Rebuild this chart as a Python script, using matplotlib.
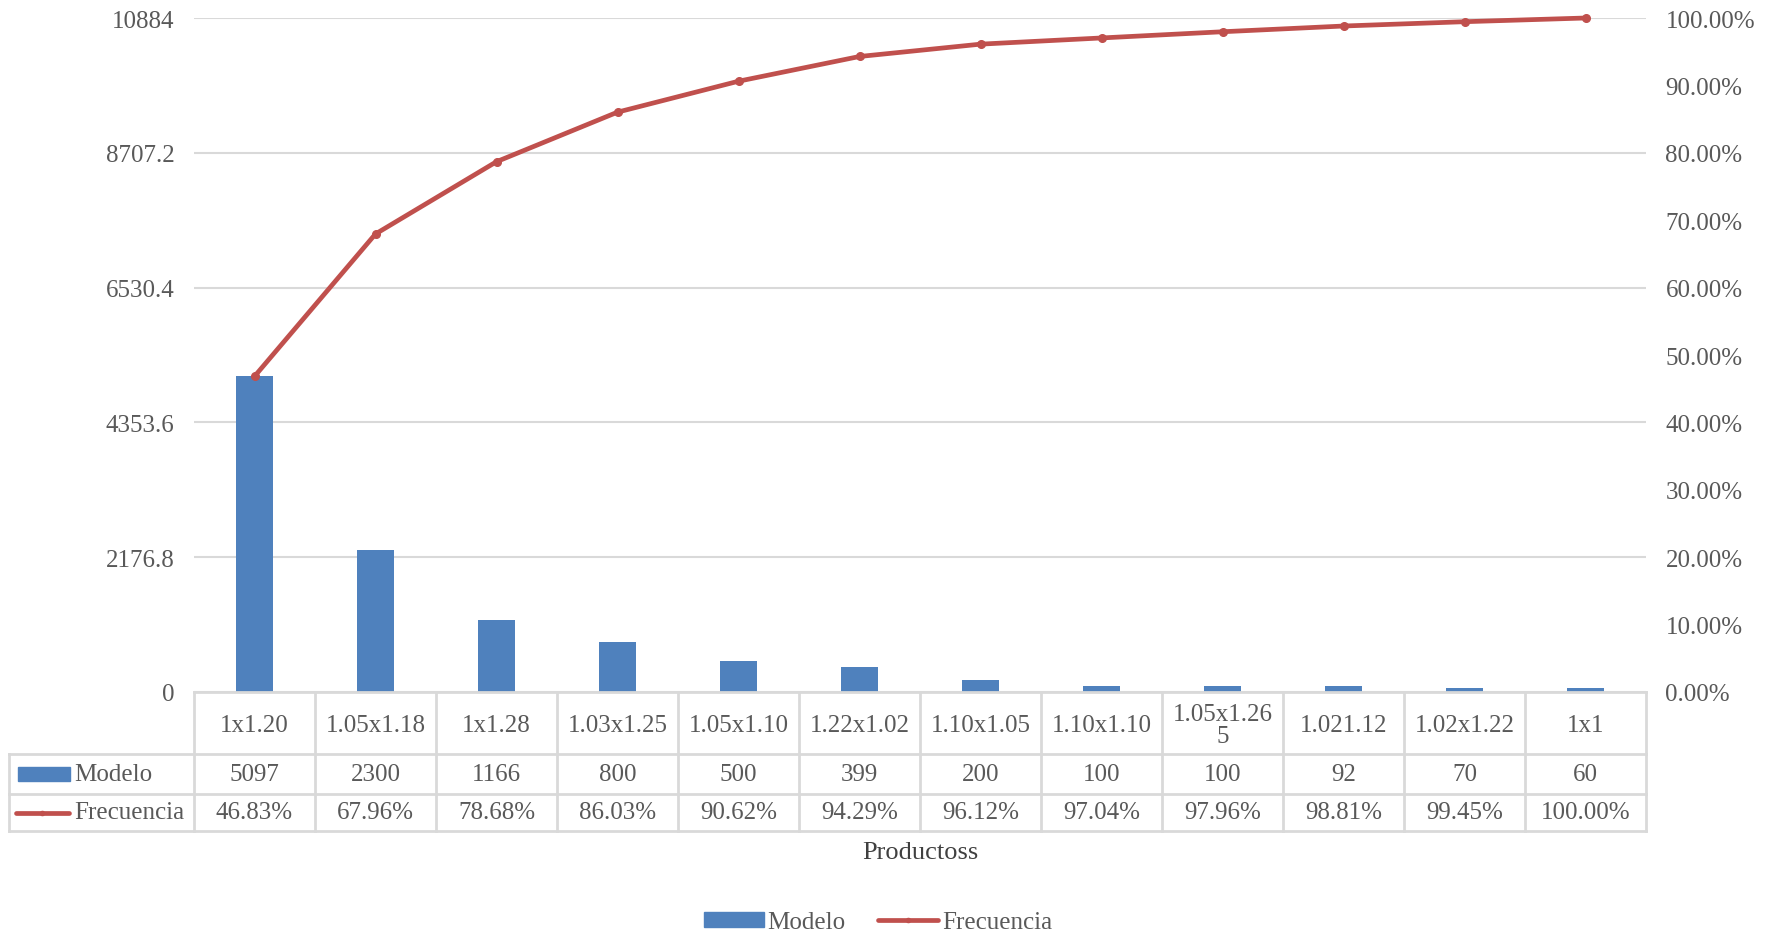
import matplotlib.pyplot as plt
from matplotlib.lines import Line2D
from matplotlib.patches import Rectangle, Patch

plt.rcParams['font.family'] = ['Liberation Serif', 'DejaVu Serif']

# data
productos = ['1x1.20', '1.05x1.18', '1x1.28', '1.03x1.25', '1.05x1.10',
             '1.22x1.02', '1.10x1.05', '1.10x1.10', '1.05x1.26\n5',
             '1.021.12', '1.02x1.22', '1x1']
modelo = [5097, 2300, 1166, 800, 500, 399, 200, 100, 100, 92, 70, 60]
frecuencia = [46.83, 67.96, 78.68, 86.03, 90.62, 94.29, 96.12, 97.04,
              97.96, 98.81, 99.45, 100.00]
y_ticks = [0, 2176.8, 4353.6, 6530.4, 8707.2, 10884]
y_tick_labels = ['0', '2176.8', '4353.6', '6530.4', '8707.2', '10884']
pct_ticks = [0, 10, 20, 30, 40, 50, 60, 70, 80, 90, 100]

BLUE = '#4F81BD'
RED = '#C0504D'
TXT = '#595959'
GRID = '#D9D9D9'
FS = 18

W, H = 1773, 937
fig = plt.figure(figsize=(W / 100, H / 100), dpi=100)
L, R, T, B = 194, 1646, 19, 693
ax = fig.add_axes([L / W, 1 - B / H, (R - L) / W, (B - T) / H])

x = list(range(len(productos)))
ax.bar(x, modelo, width=0.31, color=BLUE, zorder=2)
ax.set_xlim(-0.5, len(productos) - 0.5)
ax.set_ylim(0, y_ticks[-1])
ax.set_yticks(y_ticks)
ax.set_yticklabels(y_tick_labels)
ax.set_xticks([])
ax.grid(axis='y', color=GRID, linewidth=1.5, zorder=0)
ax.tick_params(axis='y', length=0, pad=14, labelsize=FS, labelcolor=TXT)
for s in ax.spines.values():
    s.set_visible(False)

ax2 = ax.twinx()
ax2.plot(x, frecuencia, color=RED, linewidth=3.4, marker='o', markersize=5.5,
         zorder=3, clip_on=False)
ax2.set_ylim(0, 100)
ax2.set_yticks(pct_ticks)
ax2.set_yticklabels([f'{p:.2f}%' for p in pct_ticks])
ax2.tick_params(axis='y', length=0, pad=14, labelsize=FS, labelcolor=TXT)
for s in ax2.spines.values():
    s.set_visible(False)

# data table under the plot (pixel coords -> figure fraction)
def fx(px):
    return px / W


def fy(py):
    return 1 - py / H


col_w = (R - L) / len(productos)
rows = [693, 755, 795, 832]
table_left = 9
lk = dict(color=GRID, linewidth=2, transform=fig.transFigure, zorder=1)
# horizontal lines
fig.add_artist(Line2D([fx(L), fx(R)], [fy(rows[0])] * 2, **lk))
for r in rows[1:]:
    fig.add_artist(Line2D([fx(table_left), fx(R)], [fy(r)] * 2, **lk))
# vertical lines
for i in range(len(productos) + 1):
    xp = L + i * col_w
    fig.add_artist(Line2D([fx(xp)] * 2, [fy(rows[0]), fy(rows[-1])], **lk))
fig.add_artist(Line2D([fx(table_left)] * 2, [fy(rows[1]), fy(rows[-1])], **lk))

for i, name in enumerate(productos):
    cx = fx(L + (i + 0.5) * col_w)
    fig.text(cx, fy((rows[0] + rows[1]) / 2 + 2), name, ha='center',
             va='center', fontsize=FS, color=TXT, linespacing=0.95)
    fig.text(cx, fy((rows[1] + rows[2]) / 2), str(modelo[i]), ha='center',
             va='center', fontsize=FS, color=TXT)
    fig.text(cx, fy((rows[2] + rows[3]) / 2), f'{frecuencia[i]:.2f}%',
             ha='center', va='center', fontsize=FS, color=TXT)

# legend keys inside the table
ym = (rows[1] + rows[2]) / 2
fig.add_artist(Rectangle((fx(18), fy(ym + 7)), fx(52), 14 / H, color=BLUE,
                         transform=fig.transFigure))
fig.text(fx(74), fy(ym), 'Modelo', ha='left', va='center', fontsize=FS,
         color=TXT)
yf = (rows[2] + rows[3]) / 2
fig.add_artist(Line2D([fx(16), fx(42), fx(69)], [fy(yf)] * 3, color=RED,
                      linewidth=3.4, marker='o', markersize=3, markevery=[1],
                      transform=fig.transFigure, solid_capstyle='round'))
fig.text(fx(74), fy(yf), 'Frecuencia', ha='left', va='center', fontsize=FS,
         color=TXT)

fig.text(fx((L + R) / 2), fy(853), 'Productoss', ha='center', va='center',
         fontsize=19, color='#404040')

handles = [Patch(color=BLUE, label='Modelo'),
           Line2D([0], [0], color=RED, linewidth=3.4, marker='o', markersize=3,
                  solid_capstyle='round', label='Frecuencia')]
fig.legend(handles=handles, loc='center', bbox_to_anchor=(fx(878), fy(923)),
           ncol=2, frameon=False, fontsize=FS, labelcolor=TXT, handlelength=2.4,
           handleheight=0.55, columnspacing=1.3, handletextpad=0.15)

fig.savefig('out.png', dpi=100, facecolor='white')
